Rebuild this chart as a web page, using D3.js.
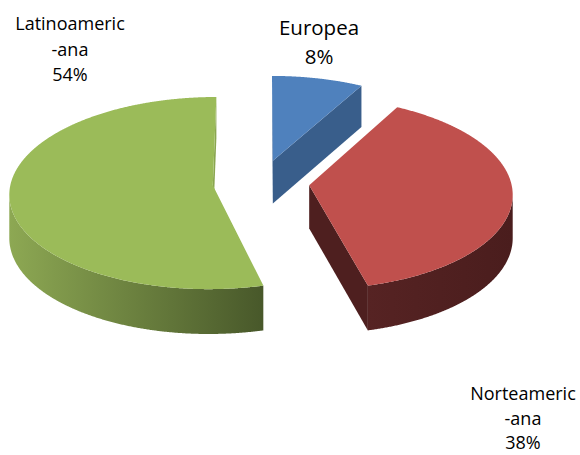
<!DOCTYPE html>
<html>
<head>
<meta charset="utf-8">
<script src="https://cdn.jsdelivr.net/npm/d3@7"></script>
<style>
  html, body { margin: 0; padding: 0; background: #fff; }
  svg { display: block; }
</style>
</head>
<body>
<script>
// ---- data ----
const categories = ["Europea", "Norteamericana", "Latinoamericana"];
const shares = [8, 38, 54];
const labelNameLines = [["Europea"], ["Norteameric", "-ana"], ["Latinoameric", "-ana"]];

// ---- styling ----
const topColors  = ["#4F81BD", "#C0504D", "#9BBB59"];
const faceColors = ["#395E8B", "#4E1F1F", "#8AA650"];
const sideStops  = [["#3A5F8C", "#2F4E74"], ["#562323", "#4A1D1D"], ["#8DA853", "#48582A"]];
const labelSizes = [20.5, 18, 18];

// ---- layout ----
const W = 580, H = 455;
const cx = 261, cy = 182.5;      // centre of the (unexploded) top face
const R = 202, RY = 95;          // horizontal / vertical radii
const PERSP = 0.08;              // foreshortening of far vs near side
const DEPTH = 43, DEPTH_P = 0.04;
const EXPLODE = 0.24;            // slice offset, in units of the radius
const labelPos = [[319, 35, 29], [523, 400, 24.5], [70, 30, 25.5]]; // x, first baseline, line step

const svg = d3.select("body").append("svg")
  .attr("width", W).attr("height", H);
const defs = svg.append("defs");

// project a point of the disc (u right, v away from viewer) to the screen
function proj(u, v, drop) {
  const s = 1 / (1 + PERSP * v);
  return [cx + R * u * s, cy - RY * v * s + drop * DEPTH / (1 + DEPTH_P * v)];
}

const arcs = d3.pie().sort(null).value(d => d)(shares);
const line = d3.line().curve(d3.curveLinearClosed);
const pctFmt = d3.format(".0%");
const total = d3.sum(shares);

// back slice first, then the two front ones
const drawOrder = [0, 2, 1];

drawOrder.forEach(i => {
  const a = arcs[i];
  const a0 = a.startAngle, a1 = a.endAngle, mid = (a0 + a1) / 2;
  const ou = EXPLODE * Math.sin(mid), ov = EXPLODE * Math.cos(mid);
  const pt = (ang, r, drop) => proj(r * Math.sin(ang) + ou, r * Math.cos(ang) + ov, drop);

  const n = Math.max(8, Math.ceil((a1 - a0) / 0.005));
  const angs = d3.range(n + 1).map(k => a0 + (a1 - a0) * k / n);

  const g = svg.append("g").attr("class", "slice slice-" + i);

  const apexT = pt(0, 0, 0), apexB = pt(0, 0, 1);
  const endT = pt(a1, 1, 0), endB = pt(a1, 1, 1);
  const startT = pt(a0, 1, 0), startB = pt(a0, 1, 1);

  // radial cut faces, only those turned toward the viewer
  if (endT[0] > apexT[0]) {
    g.append("path").attr("d", line([apexT, endT, endB, apexB]))
      .attr("fill", faceColors[i]);
  }
  if (apexT[0] > startT[0]) {
    g.append("path").attr("d", line([startT, apexT, apexB, startB]))
      .attr("fill", faceColors[i]);
  }

  // outer curved wall: runs of segments facing the viewer
  const gradId = "side-grad-" + i;
  let runs = [], cur = null;
  for (let k = 0; k < n; k++) {
    const p = pt(angs[k], 1, 0), q = pt(angs[k + 1], 1, 0);
    if (p[0] > q[0]) {
      if (!cur) { cur = [k]; runs.push(cur); }
      cur.push(k + 1);
    } else cur = null;
  }
  runs.forEach(run => {
    const topPts = run.map(k => pt(angs[k], 1, 0));
    const botPts = run.map(k => pt(angs[k], 1, 1)).reverse();
    const poly = topPts.concat(botPts);
    const xs = d3.extent(poly, p => p[0]);
    const grad = defs.append("linearGradient").attr("id", gradId)
      .attr("gradientUnits", "userSpaceOnUse")
      .attr("x1", xs[0]).attr("x2", xs[1]).attr("y1", 0).attr("y2", 0);
    grad.append("stop").attr("offset", 0).attr("stop-color", sideStops[i][0]);
    grad.append("stop").attr("offset", 1).attr("stop-color", sideStops[i][1]);
    g.append("path").attr("d", line(poly)).attr("fill", `url(#${gradId})`);
  });

  // top face
  const topPoly = [apexT].concat(angs.map(ang => pt(ang, 1, 0)));
  g.append("path").attr("d", line(topPoly)).attr("fill", topColors[i]);
});

// data labels
const labels = svg.append("g")
  .attr("font-family", "'Open Sans', 'Noto Sans', sans-serif")
  .attr("fill", "#000")
  .attr("text-anchor", "middle");

categories.forEach((c, i) => {
  const lines = labelNameLines[i].concat([pctFmt(shares[i] / total)]);
  const [x, y0, step] = labelPos[i];
  const t = labels.append("text").attr("class", "label")
    .attr("data-category", c).attr("font-size", labelSizes[i]);
  lines.forEach((s, k) => {
    t.append("tspan").attr("x", x).attr("y", y0 + k * step).text(s);
  });
});
</script>
</body>
</html>
